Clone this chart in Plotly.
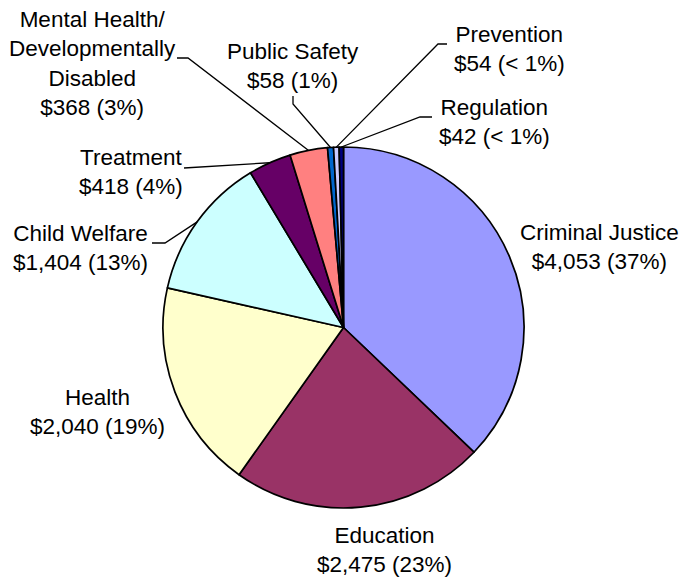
import math
import plotly.graph_objects as go

W, H = 681, 577

categories = ["Criminal Justice", "Education", "Health", "Child Welfare", "Treatment",
              "Mental Health/<br>Developmentally<br>Disabled", "Public Safety", "Prevention", "Regulation"]
values = [4053, 2475, 2040, 1404, 418, 368, 58, 54, 42]
pct_labels = ["37%", "23%", "19%", "13%", "4%", "3%", "1%", "< 1%", "< 1%"]
colors = ["#9999FF", "#993366", "#FFFFCC", "#CCFFFF", "#660066",
          "#FF8080", "#0066CC", "#CCCCFF", "#000080"]

# layout (screen pixels)
cx, cy, R = 343.5, 327.5, 180.5
label_pos = [(599, 247), (385, 550), (97, 412), (80, 248), (131, 172),
             (92, 64), (293, 66), (509, 49), (494, 122)]
leader_side = {
    3: [(152, 243), (165, 243)],
    4: [(184, 168)],
    5: [(177, 58), (188, 58)],
    6: [(293, 96), (293, 104)],
    7: [(447, 44), (438, 44)],
    8: [(432, 117), (420, 117)],
}


def px(x):
    return x / W


def py(y):
    return 1 - y / H


fig = go.Figure(go.Pie(
    labels=categories, values=values, sort=False, direction="clockwise", rotation=0,
    marker=dict(colors=colors, line=dict(color="black", width=1.7)),
    textinfo="none", hoverinfo="label+value", showlegend=False,
    domain=dict(x=[px(cx - R), px(cx + R)], y=[py(cy + R), py(cy - R)]),
))

total = sum(values)
cum = 0
shapes = []
annotations = []
for i, (cat, v, p) in enumerate(zip(categories, values, pct_labels)):
    mid = (cum + v / 2) / total * 2 * math.pi
    cum += v
    ex = cx + R * math.sin(mid)
    ey = cy - R * math.cos(mid)
    text = f"{cat}<br>${v:,} ({p})"
    lx, ly = label_pos[i]
    annotations.append(dict(x=px(lx), y=py(ly), xref="paper", yref="paper", text=text,
                            showarrow=False, xanchor="center", yanchor="middle", align="center",
                            font=dict(family="Liberation Sans, Arial, sans-serif", size=22.5, color="black")))
    if i in leader_side:
        pts = leader_side[i] + [(ex, ey)]
        path = "M " + " L ".join(f"{px(a)},{py(b)}" for a, b in pts)
        shapes.append(dict(type="path", path=path, xref="paper", yref="paper",
                           line=dict(color="black", width=1.3)))

fig.update_layout(width=W, height=H, margin=dict(l=0, r=0, t=0, b=0),
                  paper_bgcolor="white", plot_bgcolor="white",
                  shapes=shapes, annotations=annotations)
fig.write_html("out.html", config={"displayModeBar": False},
               post_script="document.body.style.margin='0px';document.body.style.overflow='hidden';")
